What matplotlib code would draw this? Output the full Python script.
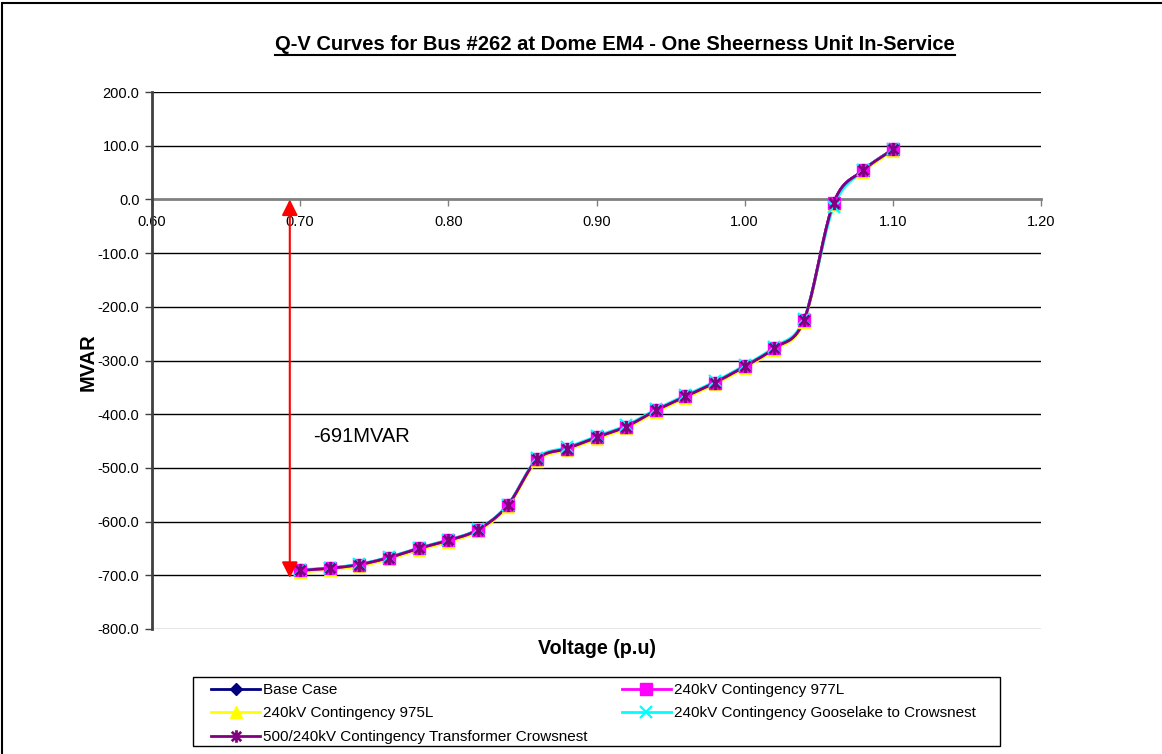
import matplotlib
matplotlib.use("Agg")
import matplotlib.pyplot as plt
from matplotlib.lines import Line2D
from matplotlib.patches import Rectangle
from matplotlib.path import Path
import numpy as np

plt.rcParams['font.family'] = ['Liberation Sans', 'DejaVu Sans']

# Voltage steps (p.u.)
voltage = [0.70, 0.72, 0.74, 0.76, 0.78, 0.80, 0.82, 0.84, 0.86, 0.88, 0.90,
           0.92, 0.94, 0.96, 0.98, 1.00, 1.02, 1.04, 1.06, 1.08, 1.10]

# Reactive power (MVAR) for each case
base_case = [-691, -687, -680, -667, -650, -635, -615, -570, -484, -464, -443,
             -423, -393, -367, -341, -311, -277, -225, -7, 54, 93]
cont_977l = [-691, -687, -680, -667, -650, -635, -615, -570, -484, -464, -443,
             -423, -393, -367, -341, -311, -277, -225, -7, 54, 93]
cont_975l = [-694, -690, -683, -670, -653, -638, -618, -573, -487, -467, -446,
             -426, -396, -370, -344, -314, -280, -228, -10, 51, 90]
cont_gooselake = [-690, -686, -679, -666, -649, -634, -614, -569, -482, -462, -441,
                  -421, -391, -365, -339, -309, -275, -223, -14, 54, 93]
cont_transformer = [-691, -687, -680, -667, -650, -635, -615, -570, -484, -464, -443,
                    -423, -393, -367, -341, -311, -277, -225, -7, 54, 93]

x_ticks = [0.60, 0.70, 0.80, 0.90, 1.00, 1.10, 1.20]
y_ticks = [200, 100, 0, -100, -200, -300, -400, -500, -600, -700, -800]
annotation_value = -691


def smooth(xs, ys, n=20):
    """Catmull-Rom spline through the points (smoothed line look)."""
    p = np.column_stack([xs, ys]).astype(float)
    p = np.vstack([2 * p[0] - p[1], p, 2 * p[-1] - p[-2]])
    out = []
    t = np.linspace(0, 1, n, endpoint=False)[:, None]
    for i in range(1, len(p) - 2):
        p0, p1, p2, p3 = p[i - 1], p[i], p[i + 1], p[i + 2]
        seg = 0.5 * ((2 * p1) + (-p0 + p2) * t + (2 * p0 - 5 * p1 + 4 * p2 - p3) * t ** 2
                     + (-p0 + 3 * p1 - 3 * p2 + p3) * t ** 3)
        out.append(seg)
    out.append(p[-2][None, :])
    out = np.vstack(out)
    return out[:, 0], out[:, 1]


# Star marker: vertical bar plus a diagonal cross
d = 0.75
star = Path([(0, -1), (0, 1), (-d, -d), (d, d), (-d, d), (d, -d)],
            [Path.MOVETO, Path.LINETO] * 3)

W, H = 1162, 754
fig = plt.figure(figsize=(W / 100, H / 100), dpi=100)
ax = fig.add_axes([152 / W, 1 - 629 / H, 889 / W, 537 / H])

# Outer frame of the chart area
fig.add_artist(Rectangle((2 / W, -0.1), 1.2, 1.1 - 3 / H, transform=fig.transFigure,
                         fill=False, edgecolor='black', linewidth=1.5))

series = [
    ("Base Case", base_case, '#000080', 'D',
     dict(markerfacecolor='#000080', markeredgecolor='#000080', markersize=6.5)),
    ("240kV Contingency 975L", cont_975l, '#FFFF00', '^',
     dict(markerfacecolor='#FFFF00', markeredgecolor='#FFFF00', markersize=9)),
    ("240kV Contingency 977L", cont_977l, '#FF00FF', 's',
     dict(markerfacecolor='#FF00FF', markeredgecolor='#FF00FF', markersize=8.5)),
    ("240kV Contingency Gooselake to Crowsnest", cont_gooselake, '#00FFFF', 'x',
     dict(markeredgecolor='#00FFFF', markersize=8.5, markeredgewidth=1.6)),
    ("500/240kV Contingency Transformer Crowsnest", cont_transformer, '#800080', star,
     dict(markeredgecolor='#800080', markerfacecolor='none', markersize=9.5, markeredgewidth=2)),
]

handles = {}
for label, vals, color, marker, mk in series:
    sx, sy = smooth(voltage, vals)
    ax.plot(sx, sy, color=color, linewidth=2, zorder=3)
    ax.plot(voltage, vals, linestyle='none', marker=marker, zorder=4, **mk)
    lmk = dict(mk)
    lmk['markersize'] = mk['markersize'] * 0.95
    handles[label] = Line2D([], [], color=color, linewidth=2, marker=marker, **lmk)

ax.set_xlim(0.60, 1.20)
ax.set_ylim(-800, 200)
ax.set_xticks(x_ticks)
ax.set_xticklabels([f"{v:.2f}" for v in x_ticks])
ax.set_yticks(y_ticks)
ax.set_yticklabels([f"{v:.1f}" for v in y_ticks])

for v in y_ticks:
    if v != 0:
        ax.axhline(v, color='#000000' if v != -800 else '#808080', linewidth=1, zorder=1)

for s in ['top', 'right']:
    ax.spines[s].set_visible(False)
ax.spines['bottom'].set_position(('data', 0))
ax.spines['bottom'].set_color('#808080')
ax.spines['bottom'].set_linewidth(2)
ax.spines['left'].set_color('#404040')
ax.spines['left'].set_linewidth(2)
ax.spines['bottom'].set_zorder(2)

ax.tick_params(axis='x', direction='out', length=5, width=1, color='#808080',
               labelsize=10.5, pad=6)
ax.tick_params(axis='y', direction='out', length=5, width=1, color='#404040',
               labelsize=10.5, pad=4)

# Annotation arrow showing the reactive margin
ax.annotate('', xy=(0.693, annotation_value - 14), xytext=(0.693, 0),
            arrowprops=dict(arrowstyle='<|-|>', color='#FF0000', lw=1.5,
                            mutation_scale=24, shrinkA=0, shrinkB=0), zorder=5)
ax.text(0.709, -441, f"{annotation_value}MVAR", fontsize=14.5, va='center', ha='left')

fig.text(88 / W, 1 - 362 / H, "MVAR", fontsize=14.5, fontweight='bold',
         rotation=90, ha='center', va='center')
fig.text(597 / W, 1 - 648 / H, "Voltage (p.u)", fontsize=14.2, fontweight='bold',
         ha='center', va='center')

title = fig.text(615 / W, 1 - 44 / H,
                 "Q-V Curves for Bus #262 at Dome EM4 - One Sheerness Unit In-Service",
                 fontsize=14.5, fontweight='bold', ha='center', va='center')

# Legend box and entries
fig.add_artist(Rectangle((193 / W, 1 - 746 / H), 807 / W, 69 / H,
                         transform=fig.transFigure, fill=False,
                         edgecolor='black', linewidth=1))
order = ["Base Case", "240kV Contingency 975L", "500/240kV Contingency Transformer Crowsnest",
         "240kV Contingency 977L", "240kV Contingency Gooselake to Crowsnest"]
fs = 11
em = fs * 100 / 72
leg = fig.legend([handles[k] for k in order], order, ncol=2,
                 loc='upper left',
                 bbox_to_anchor=(211 / W, 1 - 683 / H),
                 bbox_transform=fig.transFigure, fontsize=fs, frameon=False,
                 handlelength=49 / em, handletextpad=3 / em,
                 columnspacing=34 / em, labelspacing=0.62, borderpad=0,
                 borderaxespad=0)

# Underline the title
fig.canvas.draw()
bb = title.get_window_extent(renderer=fig.canvas.get_renderer())
inv = fig.transFigure.inverted()
(x0, y0), (x1, y1) = inv.transform([(bb.x0, bb.y0), (bb.x1, bb.y0)])
fig.add_artist(Line2D([x0, x1], [y0 - 1 / H, y0 - 1 / H], color='black',
                      linewidth=1.5, transform=fig.transFigure))

fig.savefig("out.png", dpi=100)
